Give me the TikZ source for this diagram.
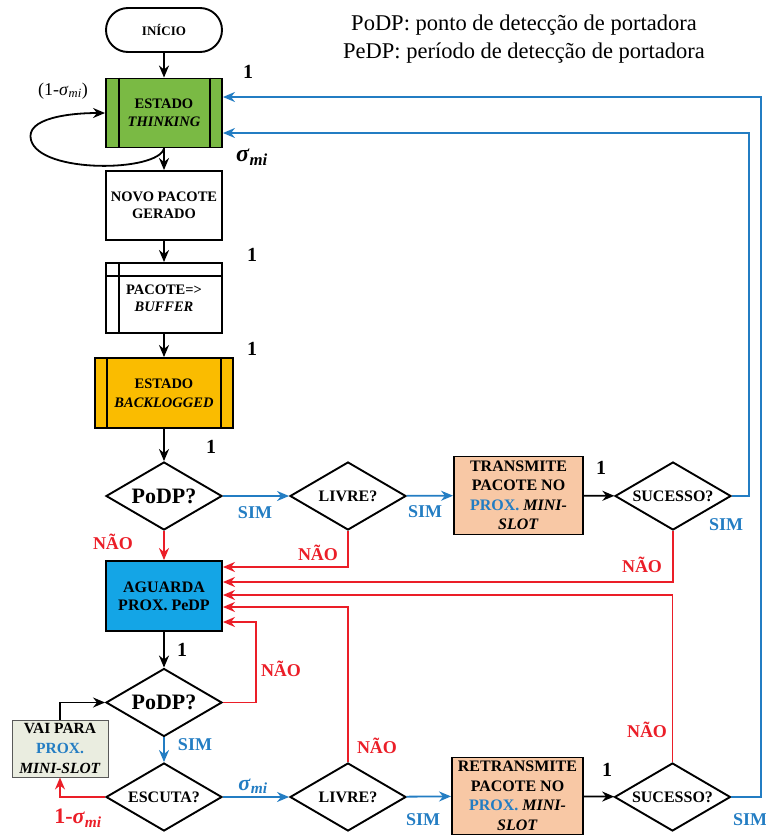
\documentclass[tikz,border=0pt]{standalone}
\usepackage{fontspec}
\setmainfont{Liberation Serif}
\usetikzlibrary{arrows.meta,shapes.geometric}

\definecolor{thinkgreen}{RGB}{122,186,68}
\definecolor{backgold}{RGB}{250,188,0}
\definecolor{waitblue}{RGB}{20,165,230}
\definecolor{txpeach}{RGB}{248,200,165}
\definecolor{vaigrey}{RGB}{234,237,224}
\definecolor{flowblue}{RGB}{35,125,195}
\definecolor{flowred}{RGB}{235,30,40}

\newcommand{\setfs}[2]{\fontsize{#1}{#2}\selectfont}
\newcommand{\sigmi}{\textit{σ}\textsubscript{\textit{mi}}}

\tikzset{
  x=1pt, y=-1pt,
  box/.style={draw, line width=1.9pt, inner sep=0pt, align=center,
              font=\bfseries\setfs{14.5}{18}},
  lowbox/.style={box, font=\bfseries\setfs{16}{19}},
  dia/.style={draw, diamond, aspect=1.706, line width=1.9pt, inner sep=0pt, align=center,
              minimum width=116pt, minimum height=68pt,
              font=\bfseries\setfs{16}{18}},
  bigdia/.style={dia, font=\bfseries\setfs{22}{24}},
  bar/.style={line width=1.9pt},
  arr/.style={line width=1.8pt, -{Stealth[length=12pt,width=10pt]}},
  yes/.style={arr, flowblue},
  no/.style={arr, flowred},
  lbl/.style={inner sep=0pt, font=\bfseries\setfs{18}{20}},
  one/.style={inner sep=0pt, font=\bfseries\setfs{20}{22}},
  sig/.style={inner sep=0pt, font=\bfseries\setfs{24}{26}},
}

\begin{document}
\begin{tikzpicture}
\useasboundingbox (0,0) rectangle (766,836);

% legend
\node[inner sep=0pt, align=center, font=\setfs{22.5}{28}] (legend) at (524,39)
  {PoDP: ponto de detecção de portadora\\PeDP: período de detecção de portadora};

% main column
\node[box, rounded corners=22pt, minimum width=116pt, minimum height=44pt,
      font=\bfseries\setfs{13}{15}] (start) at (164,30) {INÍCIO};
\node[box, fill=thinkgreen, minimum width=116pt, minimum height=69pt] (th) at (164,113)
  {ESTADO\\\textit{THINKING}};
\draw[bar] ([xshift=14pt]th.north west) -- ([xshift=14pt]th.south west);
\draw[bar] ([xshift=-13pt]th.north east) -- ([xshift=-13pt]th.south east);

\node[box, minimum width=116pt, minimum height=69pt, font=\bfseries\setfs{14.5}{17}] (novo) at (164,205.5)
  {NOVO PACOTE\\GERADO};

\node[box, minimum width=116pt, minimum height=70pt, font=\bfseries\setfs{14.5}{17}] (buf) at (164,298)
  {PACOTE=>\\\textit{BUFFER}};
\draw[bar] ([xshift=14pt]buf.north west) -- ([xshift=14pt]buf.south west);
\draw[bar] ([yshift=-14pt]buf.north west) -- ([yshift=-14pt]buf.north east);

\node[box, fill=backgold, minimum width=138pt, minimum height=70pt, font=\bfseries\setfs{14.5}{19}] (back) at (164,393)
  {ESTADO\\\textit{BACKLOGGED}};
\draw[bar] ([xshift=13pt]back.north west) -- ([xshift=13pt]back.south west);
\draw[bar] ([xshift=-13pt]back.north east) -- ([xshift=-13pt]back.south east);

% first carrier-sense row
\node[bigdia] (podp1) at (164,496) {PoDP?};
\node[dia] (livre1) at (348,496) {LIVRE?};
\node[lowbox, fill=txpeach, minimum width=129pt, minimum height=78pt, font=\bfseries\setfs{16}{19.5}] (tx1) at (518.5,495.5)
  {TRANSMITE\\PACOTE NO\\{\color{flowblue}PROX.} \textit{MINI-}\\\textit{SLOT}};
\node[dia] (suc1) at (673,496) {SUCESSO?};

\node[lowbox, fill=waitblue, minimum width=116pt, minimum height=70pt, font=\bfseries\setfs{16}{18}] (aguarda) at (164,596)
  {AGUARDA\\PROX. PeDP};

% second carrier-sense row
\node[bigdia] (podp2) at (164,702.5) {PoDP?};
\node[box, draw=black!65, line width=0.9pt, fill=vaigrey, minimum width=96pt, minimum height=57pt,
      font=\bfseries\setfs{15.5}{20}] (vai) at (60,748.5)
  {VAI PARA\\{\color{flowblue}PROX.}\\\textit{MINI-SLOT}};
\node[dia] (escuta) at (164,797) {ESCUTA?};
\node[dia] (livre2) at (348,797) {LIVRE?};
\node[lowbox, fill=txpeach, minimum width=131pt, minimum height=77pt, font=\bfseries\setfs{16}{19.5}] (tx2) at (517.5,796)
  {RETRANSMITE\\PACOTE NO\\{\color{flowblue}PROX.} \textit{MINI-}\\\textit{SLOT}};
\node[dia] (suc2) at (672.5,797) {SUCESSO?};

% black flow
\draw[arr] (start) -- (th);
\draw[arr] (th.south) .. controls (158,172) and (40,174) .. (31,140)
           .. controls (25,118) and (70,113) .. (th.west);
\draw[arr] (th) -- (novo);
\draw[arr] (novo) -- (buf);
\draw[arr] (buf) -- (back);
\draw[arr] (back) -- (podp1);
\draw[arr] (tx1) -- (suc1);
\draw[arr] (aguarda) -- (podp2);
\draw[arr] (vai.north) |- (podp2.west);
\draw[arr] (tx2) -- (suc2);

% blue (SIM) flow
\draw[yes] (podp1) -- (livre1);
\draw[yes] (livre1) -- (tx1);
\draw[yes] (suc1.east) -- ++(17,0) |- ([yshift=-20pt]th.east);
\draw[yes] (podp2) -- (escuta);
\draw[yes] (escuta) -- (livre2);
\draw[yes] (livre2) -- (tx2);
\draw[yes] (suc2.east) -- ++(29.5,0) |- ([yshift=16pt]th.east);

% red (NAO) flow
\draw[no] (podp1) -- (aguarda);
\draw[no] (livre1.south) |- ([yshift=29pt]aguarda.east);
\draw[no] (suc1.south) |- ([yshift=14pt]aguarda.east);
\draw[no] (suc2.north) |- ([yshift=1pt]aguarda.east);
\draw[no] (livre2.north) |- ([yshift=-11pt]aguarda.east);
\draw[no] (podp2.east) -- ++(33,0) |- ([yshift=-26pt]aguarda.east);
\draw[no] (escuta.west) -| (vai.south);

% branch labels
\node[lbl, flowblue] (sim1) at (255,513) {SIM};
\node[lbl, flowblue] (sim2) at (425,512) {SIM};
\node[lbl, flowblue] (sim3) at (726,525) {SIM};
\node[lbl, flowblue] (sim4) at (195,745) {SIM};
\node[lbl, flowblue] (sim5) at (423,820) {SIM};
\node[lbl, flowblue] (sim6) at (750,820) {SIM};
\node[lbl, flowred] (nao1) at (113,542) {NÃO};
\node[lbl, flowred] (nao2) at (318,553) {NÃO};
\node[lbl, flowred] (nao3) at (642,565) {NÃO};
\node[lbl, flowred] (nao4) at (281,669) {NÃO};
\node[lbl, flowred] (nao5) at (377,746) {NÃO};
\node[lbl, flowred] (nao6) at (647,730) {NÃO};

% transition probabilities
\node[one] (p1) at (248,72) {1};
\node[one] (p2) at (252,255) {1};
\node[one] (p3) at (252,349) {1};
\node[one] (p4) at (211,447) {1};
\node[one] (p5) at (601,468) {1};
\node[one] (p6) at (182,650) {1};
\node[one] (p7) at (607,770) {1};
\node[inner sep=0pt, font=\setfs{18}{20}] (loopprob) at (63,91) {(1-\sigmi)};
\node[sig] (thprob) at (252,157) {\sigmi};
\node[sig, flowblue, font=\bfseries\setfs{22}{24}] (escprob) at (253,786) {\sigmi};
\node[sig, flowred, font=\bfseries\setfs{22}{24}] (vaiprob) at (78,818) {1-\sigmi};
\end{tikzpicture}
\end{document}
